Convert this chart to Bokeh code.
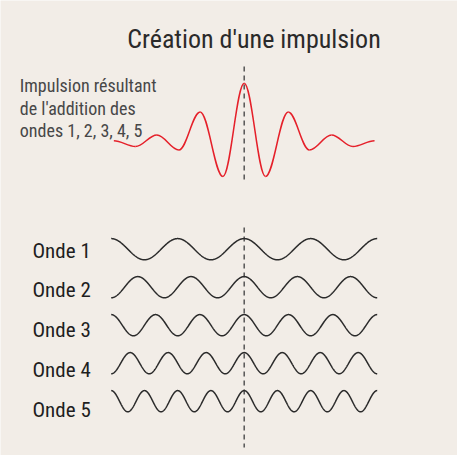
import numpy as np
from bokeh.plotting import figure
from bokeh.models import Range1d
from bokeh.core.properties import value
from bokeh.embed import file_html
from bokeh.resources import INLINE

# ---------------- data ----------------
TITLE = "Création d'une impulsion"
SUBTITLE_LINES = ["Impulsion résultant", "de l'addition des", "ondes 1, 2, 3, 4, 5"]
WAVE_LABELS = ["Onde 1", "Onde 2", "Onde 3", "Onde 4", "Onde 5"]
# cycles per unit of x (x runs from -2 to 2 for each wave)
WAVE_FREQS = [1.0, 1.25, 1.5, 1.75, 2.0]
WAVE_HALF_SPAN = 2.0
# extrema of the resulting pulse (x in the same units, y relative to the central peak)
PULSE_X = [-1.96, -1.635, -1.313, -0.982, -0.662, -0.32, 0.0,
           0.32, 0.662, 0.982, 1.313, 1.635, 1.96]
PULSE_Y = [0.0, -0.10, 0.10, -0.16, 0.50, -0.62, 1.0,
           -0.62, 0.50, -0.16, 0.10, -0.10, 0.0]

# ---------------- layout / style ----------------
BG = "#f2ede7"
FONT = "Roboto Condensed"
W, H = 457, 455
PX_PER_UNIT = 66.5
CENTER_PX = 251.7 - 8   # centre line, in figure pixels


def ux(px):
    """figure pixel (from left) -> x data units"""
    return (px - CENTER_PX) / PX_PER_UNIT


def uy(py):
    """figure pixel (from top) -> y data units"""
    return H - py


p = figure(width=W, height=H,
           x_range=Range1d(ux(0), ux(W)),
           y_range=Range1d(0, H),
           output_backend="svg", toolbar_location=None, min_border=0,
           x_axis_location=None, y_axis_location=None)
p.grid.visible = False
p.outline_line_color = None
p.background_fill_color = BG
p.border_fill_color = BG

# dashed centre line (two pieces)
p.segment(x0=[0, 0], y0=[uy(66), uy(227)], x1=[0, 0], y1=[uy(180), uy(447)],
          line_color="#555555", line_width=1.5, line_dash="5 4")

# waves
row_top = uy(248.7)
row_step = 38.0
amp = 10.6
u = np.linspace(-WAVE_HALF_SPAN, WAVE_HALF_SPAN, 800)
for k, f in enumerate(WAVE_FREQS):
    yc = row_top - k * row_step
    p.line(u, yc + amp * np.cos(2 * np.pi * f * u), line_color="#2b2b2b", line_width=1.5)

# resulting pulse, drawn as smooth bezier pieces between its extrema
base = uy(140.3)
pamp = 57.6
kc = 0.3634
px = np.array(PULSE_X)
py = base + pamp * np.array(PULSE_Y)
x0, x1 = px[:-1], px[1:]
y0, y1 = py[:-1], py[1:]
d = x1 - x0
p.bezier(x0=x0, y0=y0, x1=x1, y1=y1, cx0=x0 + kc * d, cy0=y0, cx1=x1 - kc * d, cy1=y1,
         line_color="#e5202a", line_width=1.5)

# title
p.text(x=[ux(253.5)], y=[uy(38.7)], text=[TITLE],
       text_font=value(FONT), text_font_size="26px", text_color="#2a2a2a",
       text_align="center", text_baseline="alphabetic")

# subtitle
p.text(x=[ux(19.3)] * 3, y=[uy(85.3), uy(107.8), uy(130.3)], text=SUBTITLE_LINES,
       text_font=value(FONT), text_font_size="18px", text_color="#474747",
       text_align="left", text_baseline="alphabetic")

# wave labels
p.text(x=[ux(32)] * 5, y=[uy(250), uy(289.8), uy(329.5), uy(369.3), uy(409)],
       text=WAVE_LABELS,
       text_font=value(FONT), text_font_size="21px", text_color="#1e1e1e",
       text_align="left", text_baseline="alphabetic")

open("out.html", "w").write(file_html(p, INLINE))
